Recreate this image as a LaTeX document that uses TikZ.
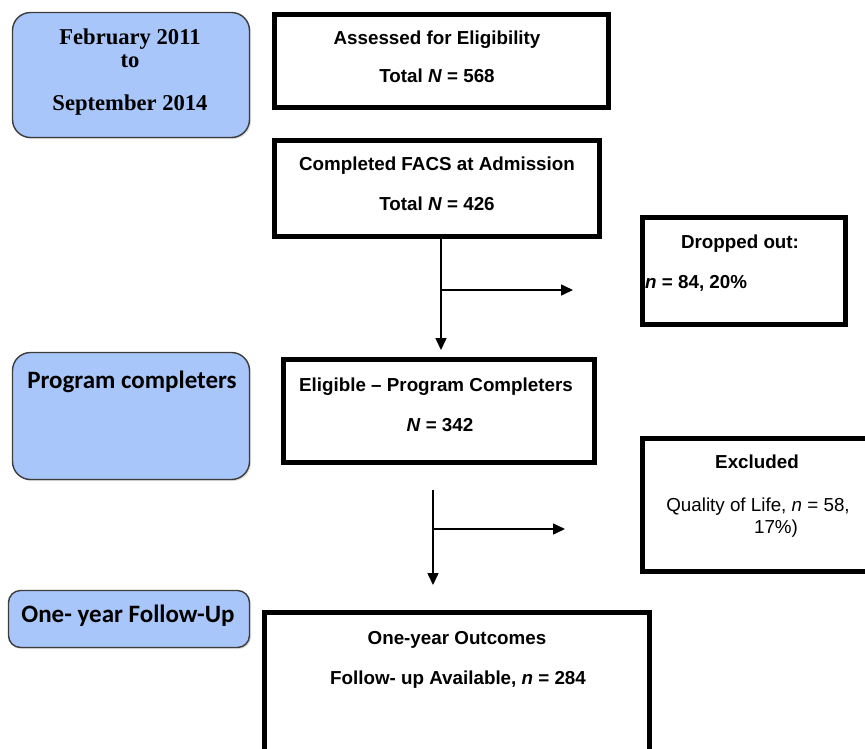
\documentclass[tikz,border=0pt]{standalone}
\usepackage{fontspec}
\setmainfont{Liberation Sans}
\newfontfamily\serifbf{Liberation Serif}[BoldFont={* Bold}]
\newfontfamily\calibf{Carlito}
\usetikzlibrary{arrows.meta,shadows}
\definecolor{stageblue}{RGB}{168,198,250}
\definecolor{stageedge}{RGB}{60,60,60}
\tikzset{
  flowbox/.style={draw=black, line width=5pt, fill=white, inner sep=0pt},
  stagebox/.style={draw=stageedge, line width=1.4pt, fill=stageblue, rounded corners=#1,
    inner sep=0pt, drop shadow={opacity=0.25, shadow xshift=1.5pt, shadow yshift=-1.5pt}},
  stagebox/.default=18pt,
  txt/.style={inner sep=0pt, anchor=base, font=\fontsize{18.8}{22}\selectfont\bfseries},
  txtr/.style={inner sep=0pt, anchor=base, font=\fontsize{18.8}{22}\selectfont},
  sertxt/.style={inner sep=0pt, anchor=base, font=\serifbf\fontsize{22.6}{26}\selectfont\bfseries},
  caltxt/.style={inner sep=0pt, anchor=base, font=\calibf\fontsize{25}{30}\selectfont\bfseries},
  arr/.style={line width=1.5pt, -{Triangle[length=12pt,width=11pt]}},
}
\begin{document}
\begin{tikzpicture}[x=1pt, y=-1pt]
\useasboundingbox (0,0) rectangle (865,748);

% stage labels on the left
\node[stagebox, minimum width=237pt, minimum height=125pt] (s1) at (131,75) {};
\node[stagebox, minimum width=237pt, minimum height=127pt] (s2) at (131,416) {};
\node[stagebox=12pt, minimum width=241pt, minimum height=57pt] (s3) at (129,619) {};

\node[sertxt] (s1a) at (130,44) {February 2011};
\node[sertxt] (s1b) at (130,67) {to};
\node[sertxt] (s1c) at (130,110) {September 2014};
\node[caltxt] (s2a) at (132,388) {Program completers};
\node[caltxt] (s3a) at (128,622) {One- year Follow-Up};

% flow boxes
\node[flowbox, minimum width=334pt, minimum height=93pt] (A) at (441.5,61) {};
\node[flowbox, minimum width=325pt, minimum height=96pt] (B) at (437,188.5) {};
\node[flowbox, minimum width=203pt, minimum height=107pt] (D) at (744,271) {};
\node[flowbox, minimum width=311pt, minimum height=103pt] (C) at (439,411) {};
\node[flowbox, minimum width=227pt, minimum height=133pt] (E) at (756,505) {};
\node[flowbox, minimum width=385pt, minimum height=160pt] (F) at (457,692) {};

\node[txt] (A1) at (437,44) {Assessed for Eligibility};
\node[txt] (A2) at (437,82) {Total \textit{N} = 568};
\node[txt] (B1) at (437,170) {Completed FACS at Admission};
\node[txt] (B2) at (437,210) {Total \textit{N} = 426};
\node[txt] (D1) at (740,248) {Dropped out:};
\node[txt, anchor=base west] (D2) at (645,288) {\textit{n} = 84, 20\%};
\node[txt] (C1) at (436,391) {Eligible -- Program Completers};
\node[txt] (C2) at (440,431) {\textit{N} = 342};
\node[txt] (E1) at (757,468) {Excluded};
\node[txtr] (E2) at (758,511) {Quality of Life, \textit{n} = 58,};
\node[txtr] (E3) at (776,533) {17\%)};
\node[txt] (F1) at (457,644) {One-year Outcomes};
\node[txt] (F2) at (458,684) {Follow- up Available, \textit{n} = 284};

% connectors
\coordinate (v1) at (441,290);
\coordinate (d1) at (573,290);
\coordinate (v2s) at (433,490);
\coordinate (v2) at (433,529);
\coordinate (v2e) at (433,585);
\coordinate (d2) at (565,529);

\draw[arr, shorten >=7pt] (B.south -| v1) -- (C.north -| v1);
\draw[arr] (v1) -- (d1);
\draw[arr] (v2s) -- (v2e);
\draw[arr] (v2) -- (d2);
\end{tikzpicture}
\end{document}
